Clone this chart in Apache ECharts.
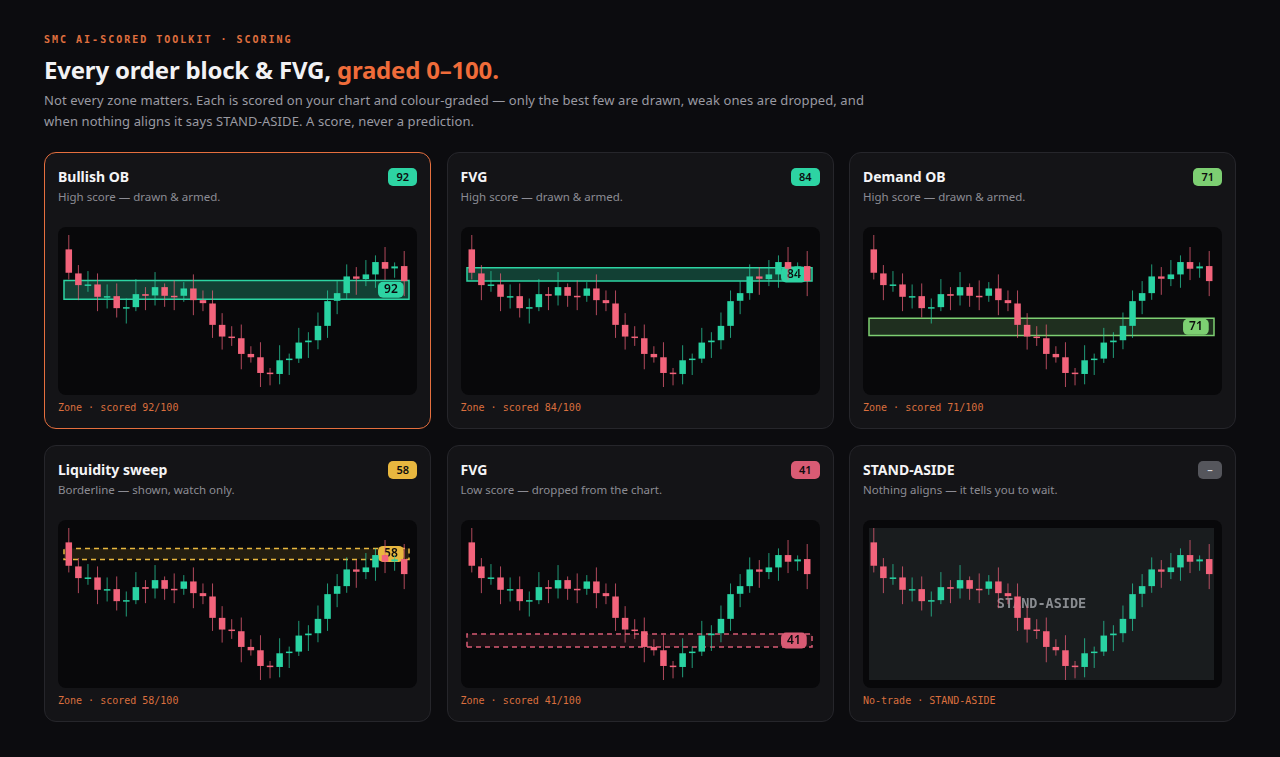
<!DOCTYPE html>
<html lang="en">

<head>
    <meta charset="UTF-8">
    <title>SMC AI-scored toolkit · scoring</title>
    <style>
        * { box-sizing: border-box; margin: 0; padding: 0; }
        body { width: 1280px; height: 757px; background: #0c0c0f; font-family: "Noto Sans", sans-serif; position: relative; overflow: hidden; }
        .eyebrow { position: absolute; left: 44px; top: 34px; font: bold 10px/12px "DejaVu Sans Mono", monospace; letter-spacing: 2px; color: #e0703f; }
        h1 { position: absolute; left: 44px; top: 55px; font-size: 24px; line-height: 30px; font-weight: 700; color: #f2f2f4; letter-spacing: -0.2px; }
        h1 span { color: #f06c3a; }
        .lead { position: absolute; left: 44px; top: 90px; font-size: 13px; line-height: 21px; color: #9a9aa2; letter-spacing: 0.1px; }
        .card { position: absolute; width: 387px; height: 277px; background: #141417; border: 1px solid #26262b; border-radius: 12px; }
        .card.active { border: 1.5px solid #e56f3e; }
        .card .t { position: absolute; left: 13px; top: 15px; font-size: 14px; line-height: 18px; font-weight: 700; color: #f4f4f6; }
        .card .s { position: absolute; left: 13px; top: 36px; font-size: 11.5px; line-height: 16px; color: #8c8c94; }
        .card .b { position: absolute; right: 13px; top: 15px; height: 18px; min-width: 24px; padding: 0 8px; border-radius: 5px; font-size: 11px; line-height: 18px; font-weight: 600; color: #0c0c0e; text-align: center; }
        .card .p { position: absolute; left: 13px; top: 74px; width: 359px; height: 168px; background: #08080a; border-radius: 8px; overflow: hidden; }
        .card .f { position: absolute; left: 13px; top: 248px; font: 10px/14px "DejaVu Sans Mono", monospace; color: #db6f3e; }
    </style>
</head>

<body>
    <div class="eyebrow">SMC AI-SCORED TOOLKIT · SCORING</div>
    <h1>Every order block &amp; FVG, <span>graded 0–100.</span></h1>
    <div class="lead">Not every zone matters. Each is scored on your chart and colour-graded — only the best few are drawn, weak ones are dropped, and<br>when nothing aligns it says STAND-ASIDE. A score, never a prediction.</div>

    <script src="https://cdn.jsdelivr.net/npm/echarts@6/dist/echarts.min.js"></script>
    <script>
        // the same price path in every card
        const opens  = [44.7, 37.5, 33.8, 34.2, 30.4, 30.7, 27.1, 27.4, 31.3, 30.9, 33.4, 30.8, 30.8, 33.0, 29.5, 28.5, 22.1, 18.6, 18.1, 13.4, 12.4, 7.8, 7.4, 11.6, 12.0, 16.9, 17.5, 21.8, 29.3, 31.6, 36.6, 35.8, 37.2, 40.9, 39.0, 39.7]
        const closes = [37.7, 34.0, 34.2, 30.5, 30.7, 27.1, 27.4, 31.3, 30.8, 33.4, 30.8, 30.5, 33.0, 29.5, 28.6, 22.1, 18.6, 18.2, 13.4, 12.4, 7.7, 7.4, 11.5, 12.0, 16.8, 17.4, 21.8, 29.2, 31.6, 36.6, 35.9, 37.2, 40.9, 38.9, 39.6, 35.2]
        const lows   = [35.7, 29.5, 32.0, 26.2, 27.0, 24.3, 22.5, 26.2, 26.5, 27.9, 27.5, 26.5, 29.0, 25.0, 26.2, 18.2, 14.7, 15.8, 8.8, 10.8, 3.5, 4.0, 4.3, 7.1, 10.7, 12.2, 14.8, 18.2, 25.3, 29.6, 31.1, 33.7, 33.2, 35.5, 36.2, 30.7]
        const highs  = [49.0, 40.0, 38.2, 37.5, 34.2, 34.5, 30.0, 35.8, 33.4, 37.9, 34.5, 35.4, 34.9, 37.2, 32.4, 32.4, 25.6, 21.7, 22.2, 15.7, 16.9, 9.2, 16.0, 13.5, 21.2, 19.9, 25.8, 32.4, 35.2, 40.2, 39.4, 41.5, 42.9, 45.4, 40.8, 44.2]

        // one entry per card
        const titles  = ['Bullish OB', 'FVG', 'Demand OB', 'Liquidity sweep', 'FVG', 'STAND-ASIDE']
        const notes   = ['High score — drawn & armed.', 'High score — drawn & armed.', 'High score — drawn & armed.',
                         'Borderline — shown, watch only.', 'Low score — dropped from the chart.', 'Nothing aligns — it tells you to wait.']
        const scores  = ['92', '84', '71', '58', '41', '–']
        const zoneLo  = [29.8, 35.2, 18.9, 39.6, 13.4, null]
        const zoneHi  = [35.4, 39.2, 24.1, 42.9, 17.3, null]
        const footers = ['Zone · scored 92/100', 'Zone · scored 84/100', 'Zone · scored 71/100',
                         'Zone · scored 58/100', 'Zone · scored 41/100', 'No-trade · STAND-ASIDE']

        // styles per card
        const tone = ['#2dd4a3', '#2dd4a3', '#7dcf72', '#e8b73f', '#d95b74', '#55565c']
        const fill = ['rgba(45,212,163,0.28)', 'rgba(45,212,163,0.28)', 'rgba(125,207,114,0.2)',
                      'rgba(232,183,63,0.13)', 'rgba(217,91,116,0.1)', null]
        const dashed = [false, false, false, true, true, false]

        const UP = '#29d3a2'
        const DOWN = '#f2637b'
        const yMin = Math.min(...lows)
        const yMax = Math.max(...highs)
        const candles = opens.map((o, i) => [i, o, closes[i], lows[i], highs[i]])

        function drawCandle(params, api) {
            const x = api.value(0)
            const o = api.coord([x, api.value(1)])
            const c = api.coord([x, api.value(2)])
            const l = api.coord([x, api.value(3)])
            const h = api.coord([x, api.value(4)])
            const w = api.size([1, 0])[0] * 0.68
            const color = api.value(2) >= api.value(1) ? UP : DOWN
            const top = Math.min(o[1], c[1])
            return {
                type: 'group',
                children: [{
                    type: 'line',
                    shape: { x1: h[0], y1: h[1], x2: l[0], y2: l[1] },
                    style: { stroke: color, lineWidth: 1, opacity: 0.72 }
                }, {
                    type: 'rect',
                    shape: { x: o[0] - w / 2, y: top, width: w, height: Math.max(Math.abs(o[1] - c[1]), 1.5) },
                    style: { fill: color }
                }]
            }
        }

        titles.forEach((title, i) => {
            const col = i % 3
            const row = Math.floor(i / 3)
            const card = document.createElement('div')
            card.className = 'card' + (i === 0 ? ' active' : '')
            card.style.left = (44 + col * 402.5) + 'px'
            card.style.top = (152 + row * 293) + 'px'
            card.innerHTML = '<div class="t"></div><div class="s"></div><div class="b"></div><div class="p"></div><div class="f"></div>'
            card.querySelector('.t').textContent = title
            card.querySelector('.s').textContent = notes[i]
            const badge = card.querySelector('.b')
            badge.textContent = scores[i]
            badge.style.background = tone[i]
            if (zoneLo[i] === null) badge.style.color = '#d4d4d8'
            card.querySelector('.f').textContent = footers[i]
            document.body.appendChild(card)

            const series = []
            if (zoneLo[i] === null) {
                // grey wash behind the candles
                series.push({
                    type: 'line', data: [], z: 1,
                    markArea: {
                        silent: true,
                        itemStyle: { color: 'rgba(36,40,44,0.62)' },
                        data: [[{ xAxis: -0.5, yAxis: yMin }, { xAxis: 35.5, yAxis: yMax }]]
                    }
                })
            }
            series.push({
                type: 'custom', z: 2,
                renderItem: drawCandle,
                data: candles
            })
            if (zoneLo[i] !== null) {
                series.push({
                    type: 'line', data: [], z: 3,
                    markArea: {
                        silent: true,
                        itemStyle: {
                            color: fill[i],
                            borderColor: tone[i],
                            borderWidth: 1.5,
                            borderType: dashed[i] ? [5, 4] : 'solid'
                        },
                        label: {
                            show: true,
                            position: 'insideRight',
                            distance: 6,
                            formatter: scores[i],
                            backgroundColor: tone[i],
                            color: '#0c0c0e',
                            fontFamily: 'Noto Sans',
                            fontSize: 12,
                            fontWeight: 600,
                            padding: [2, 6],
                            borderRadius: 5
                        },
                        data: [[{ xAxis: -0.5, yAxis: zoneLo[i] }, { xAxis: 35.5, yAxis: zoneHi[i] }]]
                    }
                })
            } else {
                series.push({
                    type: 'line', data: [], z: 3,
                    markArea: {
                        silent: true,
                        itemStyle: { color: 'rgba(0,0,0,0)' },
                        label: {
                            show: true,
                            position: 'inside',
                            formatter: 'STAND-ASIDE',
                            color: 'rgba(150,153,157,0.9)',
                            fontFamily: 'DejaVu Sans Mono',
                            fontWeight: 'bold',
                            fontSize: 13.5
                        },
                        data: [[{ xAxis: -0.5, yAxis: yMin }, { xAxis: 35.5, yAxis: yMax }]]
                    }
                })
            }

            const chart = echarts.init(card.querySelector('.p'))
            chart.setOption({
                animation: false,
                grid: { left: 6, right: 8, top: 8, bottom: 8 },
                xAxis: { type: 'value', min: -0.5, max: 35.5, show: false },
                yAxis: { type: 'value', min: yMin, max: yMax, show: false },
                series: series
            })
        })
    </script>
</body>

</html>
